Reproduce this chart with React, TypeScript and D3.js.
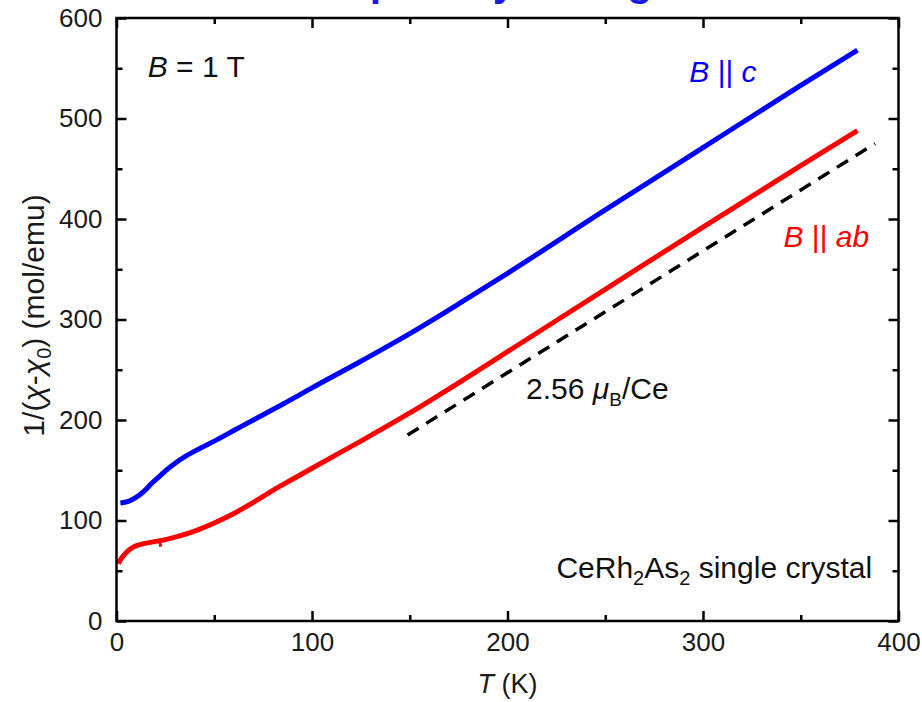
import React, { useEffect, useRef } from "react";
import * as d3 from "d3";

// B || c, inverse susceptibility vs temperature
const tempC = [2, 6, 10, 14, 18, 22, 26, 30, 35, 40, 45, 50, 60, 70, 80, 90, 100, 125, 150, 175, 200, 250, 300, 350, 379];
const invChiC = [117.5, 119, 123, 129, 137, 144, 151, 157, 163.5, 169, 174, 179, 189.5, 200, 210.5, 221, 232, 258.5, 286, 315.5, 346, 409, 471, 533, 568];

// B || ab
const tempAB = [1, 2, 4, 6, 9, 13, 18, 25, 31, 40, 50, 60, 70, 80, 90, 100, 125, 150, 175, 200, 250, 300, 350, 379];
const invChiAB = [57, 61, 66, 70, 74, 76.5, 78.5, 81, 84, 89.5, 97.5, 107, 118, 130, 141, 152, 179, 207, 237, 268, 330, 392, 453, 488];

// stray points in the ab data near 22 K
const strayT = [22, 22.6];
const strayAB = [80, 74];

// Curie-Weiss line, 2.56 muB/Ce
const fitT = [148, 388];
const fitVals = [184, 475];

const xMajor = [0, 100, 200, 300, 400];
const xMinor = [50, 150, 250, 350];
const yMajor = [0, 100, 200, 300, 400, 500, 600];
const yMinor = [50, 150, 250, 350, 450, 550];

const FONT = "'Liberation Sans', Arial, sans-serif";

const InverseChiChart = () => {
  const ref = useRef<SVGSVGElement | null>(null);

  useEffect(() => {
    if (ref.current) drawChart(ref.current);
  }, []);

  return (
    <svg
      ref={ref}
      width={922}
      height={702}
      style={{ position: "absolute", left: 0, top: 0, background: "#fff" }}
    />
  );
};

function drawChart(node: SVGSVGElement) {
  const root = d3.select(node);
  root.selectAll("*").remove();

  const margin = { top: 18, right: 23.5, bottom: 81, left: 116.5 };
  const width = 922 - margin.left - margin.right;
  const height = 702 - margin.top - margin.bottom;

  // title, cropped at the top edge in the original figure
  root
    .append("text")
    .attr("x", 249)
    .attr("y", -4.5)
    .attr("fill", "#1a1adf")
    .style("font-family", FONT)
    .style("font-weight", "bold")
    .style("font-size", "41px")
    .text("Susceptibility & magnetization");

  const svg = root
    .append("g")
    .attr("transform", `translate(${margin.left},${margin.top})`);

  const x = d3.scaleLinear().domain([0, 400]).range([0, width]);
  const y = d3.scaleLinear().domain([0, 600]).range([height, 0]);

  const line = d3
    .line<[number, number]>()
    .x((d) => x(d[0]))
    .y((d) => y(d[1]))
    .curve(d3.curveMonotoneX);
  const straight = d3
    .line<[number, number]>()
    .x((d) => x(d[0]))
    .y((d) => y(d[1]));

  const seriesC: [number, number][] = tempC.map((t, i) => [t, invChiC[i]]);
  const seriesAB: [number, number][] = tempAB.map((t, i) => [t, invChiAB[i]]);
  const stray: [number, number][] = strayT.map((t, i) => [t, strayAB[i]]);
  const fit: [number, number][] = fitT.map((t, i) => [t, fitVals[i]]);

  // data
  svg
    .append("path")
    .datum(seriesC)
    .attr("fill", "none")
    .attr("stroke", "#0000ff")
    .attr("stroke-width", 5)
    .attr("d", line);

  svg
    .append("path")
    .datum(seriesAB)
    .attr("fill", "none")
    .attr("stroke", "#ff0000")
    .attr("stroke-width", 5)
    .attr("d", line);

  svg
    .append("path")
    .datum(stray)
    .attr("fill", "none")
    .attr("stroke", "#ff0000")
    .attr("stroke-width", 3)
    .attr("d", straight);

  svg
    .append("path")
    .datum(fit)
    .attr("fill", "none")
    .attr("stroke", "#000")
    .attr("stroke-width", 3.5)
    .attr("stroke-dasharray", "13,9")
    .attr("stroke-dashoffset", 20)
    .attr("d", straight);

  // axes, ticks pointing inward on all four sides
  const styleAxis = (g: d3.Selection<SVGGElement, unknown, null, undefined>) => {
    g.select(".domain").remove();
    g.selectAll(".tick line").attr("stroke", "#000").attr("stroke-width", 2.5);
    g.selectAll(".tick text")
      .attr("fill", "#1a1a1a")
      .style("font-family", FONT)
      .style("font-size", "26px");
  };

  svg
    .append("g")
    .attr("transform", `translate(0,${height})`)
    .call(d3.axisBottom(x).tickValues(xMajor).tickSize(-10).tickPadding(12).tickFormat(d3.format("d")))
    .call(styleAxis)
    .selectAll(".tick text")
    .attr("dy", "0.71em");
  svg
    .append("g")
    .attr("transform", `translate(0,${height})`)
    .call(d3.axisBottom(x).tickValues(xMinor).tickSize(-6).tickFormat(() => ""))
    .call(styleAxis);
  svg
    .append("g")
    .call(d3.axisTop(x).tickValues(xMajor).tickSize(-10).tickFormat(() => ""))
    .call(styleAxis);
  svg
    .append("g")
    .call(d3.axisTop(x).tickValues(xMinor).tickSize(-6).tickFormat(() => ""))
    .call(styleAxis);

  svg
    .append("g")
    .call(d3.axisLeft(y).tickValues(yMajor).tickSize(-10).tickPadding(14).tickFormat(d3.format("d")))
    .call(styleAxis);
  svg
    .append("g")
    .call(d3.axisLeft(y).tickValues(yMinor).tickSize(-6).tickFormat(() => ""))
    .call(styleAxis);
  svg
    .append("g")
    .attr("transform", `translate(${width},0)`)
    .call(d3.axisRight(y).tickValues(yMajor).tickSize(-10).tickFormat(() => ""))
    .call(styleAxis);
  svg
    .append("g")
    .attr("transform", `translate(${width},0)`)
    .call(d3.axisRight(y).tickValues(yMinor).tickSize(-6).tickFormat(() => ""))
    .call(styleAxis);

  // frame
  svg
    .append("rect")
    .attr("width", width)
    .attr("height", height)
    .attr("fill", "none")
    .attr("stroke", "#000")
    .attr("stroke-width", 2.5);

  // axis titles
  const xTitle = svg
    .append("text")
    .attr("x", width / 2)
    .attr("y", height + 72)
    .attr("text-anchor", "middle")
    .attr("fill", "#1a1a1a")
    .style("font-family", FONT)
    .style("font-size", "27px");
  xTitle.append("tspan").style("font-style", "italic").text("T");
  xTitle.append("tspan").text(" (K)");

  const yTitle = svg
    .append("text")
    .attr("transform", `translate(${-73},${height / 2 - 4}) rotate(-90)`)
    .attr("text-anchor", "middle")
    .attr("fill", "#1a1a1a")
    .style("font-family", FONT)
    .style("font-size", "30px");
  yTitle.append("tspan").text("1/(");
  yTitle.append("tspan").style("font-style", "italic").text("χ");
  yTitle.append("tspan").text("-");
  yTitle.append("tspan").style("font-style", "italic").text("χ");
  yTitle.append("tspan").attr("dy", 7).style("font-size", "20px").text("0");
  yTitle.append("tspan").attr("dy", -7).text(") (mol/emu)");

  // annotations
  const label = (px: number, py: number, color: string, anchor = "start") =>
    svg
      .append("text")
      .attr("x", px)
      .attr("y", py)
      .attr("text-anchor", anchor)
      .attr("fill", color)
      .style("font-family", FONT)
      .style("font-size", "30px");

  const bField = label(x(16), y(541), "#111");
  bField.append("tspan").style("font-style", "italic").text("B");
  bField.append("tspan").text(" = 1 T");

  const bc = label(x(293), y(536), "#0000ff");
  bc.append("tspan").style("font-style", "italic").text("B");
  bc.append("tspan").text(" || ");
  bc.append("tspan").style("font-style", "italic").text("c");

  const bab = label(x(385), y(372), "#ff0000", "end");
  bab.append("tspan").style("font-style", "italic").text("B");
  bab.append("tspan").text(" || ");
  bab.append("tspan").style("font-style", "italic").text("ab");

  const moment = label(x(209.5), y(221), "#111");
  moment.append("tspan").text("2.56 ");
  moment.append("tspan").style("font-style", "italic").text("μ");
  moment.append("tspan").attr("dy", 7).style("font-size", "19px").text("B");
  moment.append("tspan").attr("dy", -7).text("/Ce");

  const sample = label(x(386.5), y(43), "#111", "end");
  sample.append("tspan").text("CeRh");
  sample.append("tspan").attr("dy", 7).style("font-size", "20px").text("2");
  sample.append("tspan").attr("dy", -7).text("As");
  sample.append("tspan").attr("dy", 7).style("font-size", "20px").text("2");
  sample.append("tspan").attr("dy", -7).text(" single crystal");
}

export default function App() {
  return <InverseChiChart />;
}
